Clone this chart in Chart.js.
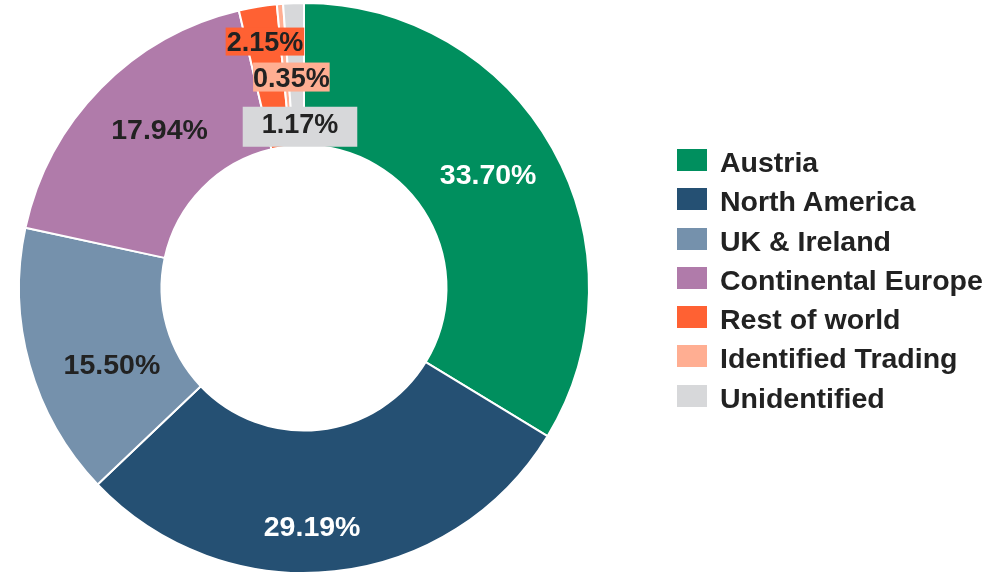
<!DOCTYPE html>
<html>
<head>
<meta charset="utf-8">
<script src="https://cdn.jsdelivr.net/npm/chart.js@4/dist/chart.umd.min.js"></script>
<style>
  body { margin: 0; background: #fff; }
  #wrap { position: relative; width: 1006px; height: 575px; }
  #legend { position: absolute; left: 677px; top: 148px; font: bold 28.5px "Liberation Sans", Arial, sans-serif; color: #222; }
  .item { display: flex; align-items: flex-start; height: 39.3px; line-height: 28px; white-space: nowrap; }
  .box { width: 30px; height: 22px; margin-top: 1px; margin-right: 13px; }
</style>
</head>
<body>
<div id="wrap">
  <canvas id="c" width="1006" height="575"></canvas>
  <div id="legend"></div>
</div>
<script>
const regions = ['Austria', 'North America', 'UK & Ireland', 'Continental Europe', 'Rest of world', 'Identified Trading', 'Unidentified']
const shares = [33.70, 29.19, 15.50, 17.94, 2.15, 0.35, 1.17]
const colors = ['#008F5E', '#255073', '#7591AC', '#B07BAA', '#FF6133', '#FFAE92', '#D7D8DA']
const labelColors = ['#fff', '#fff', '#222', '#222', '#222', '#222', '#222']

// label placement relative to the slice middle: angle shift (deg), radius as part of outer radius
const place = [
  { da: -2.2, r: 0.758 },
  { da: 4.2, r: 0.84 },
  { da: -6.3, r: 0.727 },
  { da: 3, r: 0.75 },
  { da: 0.3, r: 0.872, box: { px: 1, top: 15, bottom: 13 } },
  { da: 1.4, r: 0.738, box: { px: 0, top: 15.5, bottom: 13.5 } },
  { da: 0.7, r: 0.573, box: { px: 19, top: 18, bottom: 22 } },
]

const sliceLabels = {
  id: 'sliceLabels',
  afterDatasetsDraw(chart) {
    const ctx = chart.ctx
    const arcs = chart.getDatasetMeta(0).data
    ctx.save()
    ctx.textAlign = 'center'
    ctx.textBaseline = 'middle'
    arcs.forEach((arc, i) => {
      const p = place[i]
      const mid = (arc.startAngle + arc.endAngle) / 2 + (p.da * Math.PI) / 180
      const rad = arc.outerRadius * p.r
      const x = arc.x + Math.cos(mid) * rad
      const y = arc.y + Math.sin(mid) * rad
      const text = shares[i].toFixed(2) + '%'
      ctx.font = 'bold ' + (p.box ? 27 : 28.5) + 'px "Liberation Sans", Arial, sans-serif'
      if (p.box) {
        const w = ctx.measureText(text).width + p.box.px * 2
        ctx.fillStyle = colors[i]
        ctx.fillRect(x - w / 2, y - p.box.top, w, p.box.top + p.box.bottom)
      }
      ctx.fillStyle = labelColors[i]
      ctx.fillText(text, x, y + 1)
    })
    ctx.restore()
  },
}

new Chart(document.getElementById('c'), {
  type: 'doughnut',
  data: {
    labels: regions,
    datasets: [{
      data: shares,
      backgroundColor: colors,
      borderColor: '#fff',
      borderWidth: 2,
    }],
  },
  options: {
    responsive: false,
    animation: false,
    cutout: '50%',
    layout: { padding: { left: 18, right: 416, top: 2, bottom: 1 } },
    plugins: {
      legend: { display: false },
      tooltip: { enabled: false },
    },
  },
  plugins: [sliceLabels],
})

const legend = document.getElementById('legend')
regions.forEach((name, i) => {
  const row = document.createElement('div')
  row.className = 'item'
  row.innerHTML = '<span class="box" style="background:' + colors[i] + '"></span><span></span>'
  row.lastChild.textContent = name
  legend.appendChild(row)
})
</script>
</body>
</html>
